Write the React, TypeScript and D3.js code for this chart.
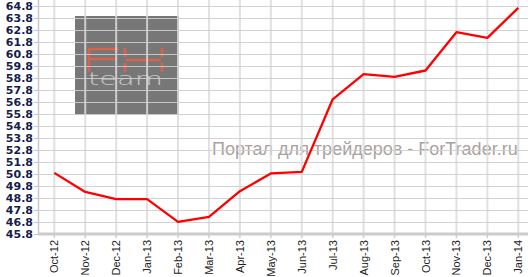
import React from "react";
import * as d3 from "d3";

const months = ["Oct-12","Nov-12","Dec-12","Jan-13","Feb-13","Mar-13","Apr-13","May-13","Jun-13","Jul-13","Aug-13","Sep-13","Oct-13","Nov-13","Dec-13","Jan-14"];
const values = [50.87, 49.28, 48.68, 48.68, 46.78, 47.2, 49.34, 50.82, 50.95, 57.0, 59.09, 58.87, 59.4, 62.59, 62.12, 64.62];
const yTicks = d3.range(19, -1, -1).map((i) => +(45.8 + i).toFixed(1));
const watermark = "Портал для трейдеров - ForTrader.ru";

const W = 528, H = 277;
const axisX = 38, axisY = 234;

export default function App() {
  const x = d3.scalePoint<string>().domain(months).range([54.3, 518.3]);
  const y = d3.scaleLinear().domain([45.8, 64.8]).range([233.7, 5.7]);
  const line = d3.line<number>().x((_, i) => x(months[i])!).y((d) => y(d));

  return (
    <svg width={W} height={H} style={{ position: "absolute", left: 0, top: 0, background: "#fff" }}>
      {/* logo */}
      <rect x={75} y={16} width={104} height={99} fill="#777777" />
      <g stroke="#d8634c" strokeWidth={2.6} fill="none">
        <path d="M118,49 H89 V72 M89,59 H117" />
        <path d="M125,48 V57 M125,63 V72 M162,48 V57 M162,63 V72 M126,60 H161" />
      </g>
      <text x={88} y={85} fontFamily="DejaVu Sans" fontSize={17} fill="#c9c9c9" textLength={75} lengthAdjust="spacingAndGlyphs" fontWeight={300}>team</text>
      {/* watermark text */}
      <text x={212} y={155} fontFamily="Liberation Sans, Arial" fontSize={18} fill="#ab9f9f">{watermark}</text>
      {/* grid */}
      {months.map((m) => (
        <line key={m} x1={x(m)} x2={x(m)} y1={0} y2={axisY} stroke="#dcdcdc" strokeWidth={2} opacity={0.85} />
      ))}
      {yTicks.map((t) => (
        <line key={t} x1={axisX} x2={W} y1={Math.round(y(t)) + 0.5} y2={Math.round(y(t)) + 0.5} stroke="#cfcfcf" strokeWidth={1.2} opacity={0.9} />
      ))}
      {/* y axis */}
      <line x1={axisX + 0.5} x2={axisX + 0.5} y1={0} y2={axisY} stroke="#c8c8c8" strokeWidth={1.5} />
      {yTicks.map((t) => (
        <g key={"yl" + t}>
          <line x1={axisX - 4} x2={axisX} y1={Math.round(y(t)) + 0.5} y2={Math.round(y(t)) + 0.5} stroke="#c8c8c8" strokeWidth={1.2} />
          <text x={33} y={y(t) + 4} textAnchor="end" fontFamily="DejaVu Sans" fontWeight="bold" fontSize={11} fill="#14204a">{t.toFixed(1)}</text>
        </g>
      ))}
      {/* x axis */}
      <line x1={axisX} x2={W} y1={axisY} y2={axisY} stroke="#cccccc" strokeWidth={3} />
      {months.map((m) => (
        <g key={"xl" + m}>
          <line x1={x(m)} x2={x(m)} y1={axisY} y2={axisY + 4} stroke="#cccccc" strokeWidth={1.5} />
          <text transform={`translate(${x(m)! + 4},${240}) rotate(-90)`} textAnchor="end" fontFamily="Liberation Sans, Arial" fontSize={11} fill="#222">{m}</text>
        </g>
      ))}
      {/* series */}
      <path d={line(values)!} fill="none" stroke="#ff0000" strokeWidth={2.3} strokeLinejoin="round" />
    </svg>
  );
}
